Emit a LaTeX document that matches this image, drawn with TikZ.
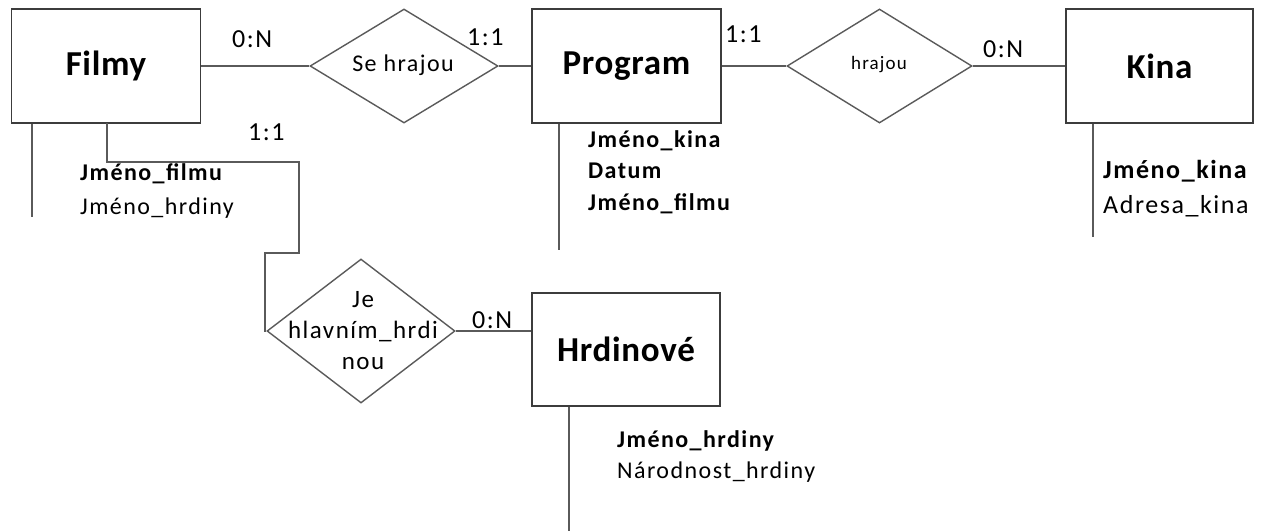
\documentclass[tikz,border=0pt]{standalone}
\usepackage{fontspec}
\setmainfont{Carlito}
\newfontfamily\spaced{Carlito}[LetterSpace=6]
\newfontfamily\slight{Carlito}[LetterSpace=2]
\usetikzlibrary{shapes.geometric}
\definecolor{boxline}{HTML}{3C3C3C}
\definecolor{linkgray}{HTML}{5A5A5A}
\begin{document}
\begin{tikzpicture}[x=1pt,y=-1pt,
  entity/.style={draw=boxline, line width=1.7pt, minimum width=189pt, minimum height=114pt,
    inner sep=0pt, font=\slight\fontsize{35}{40}\selectfont\bfseries},
  rel/.style={diamond, draw=linkgray, line width=1.4pt, minimum width=188pt, minimum height=114pt,
    inner sep=0pt},
  reltext/.style={inner sep=0pt, align=center, font=\spaced\fontsize{24}{31}\selectfont},
  card/.style={anchor=base west, inner sep=0pt, font=\spaced\fontsize{26}{30}\selectfont},
  attr/.style={anchor=base west, inner sep=0pt, font=\spaced\fontsize{24}{28}\selectfont},
  key/.style={attr, font=\spaced\fontsize{24}{28}\selectfont\bfseries},
  link/.style={draw=linkgray, line width=1.7pt}]
\useasboundingbox (0,0) rectangle (1268,531);

% entities
\node[entity] (filmy)   at (106,66)    {Filmy};
\node[entity] (program) at (626.5,66)  {Program};
\node[entity, minimum width=187pt] (kina) at (1159.5,66) {Kina};
\node[entity, minimum width=188pt, minimum height=113pt] (hrdinove) at (626,349.5) {Hrdinové};

% relationships
\node[rel] (sehrajou) at (404,66) {};
\node[reltext] (sehrajou-t) at (403,65) {Se hrajou};
\node[rel, minimum width=185pt] (hrajou) at (879.5,66) {};
\node[reltext, font=\spaced\fontsize{19}{22}\selectfont] (hrajou-t) at (879,65) {hrajou};
\node[rel, minimum height=144pt] (je) at (361,331) {};
\node[reltext, font=\spaced\fontsize{25}{31}\selectfont] (je-t) at (363,331) {Je\\hlavním\_hrdi\\nou};

% connectors
\draw[link] (filmy.east) -- (sehrajou.west);
\draw[link] (sehrajou.east) -- (program.west);
\draw[link] (program.east) -- (hrajou.west);
\draw[link] (hrajou.east) -- (kina.west);
\draw[link] (je.east) -- (je.east -| hrdinove.west);
\coordinate (f1) at (107,123);
\draw[link] (f1) -- (107,162) -- (299,162) -- (299,253) -- (265,253) |- (je.west);

% attribute stems
\coordinate (fa) at (32,217);
\coordinate (pa) at (559,250);
\coordinate (ka) at (1093,237);
\coordinate (ha) at (569,531);
\draw[link] (filmy.south west -| fa) -- (fa);
\draw[link] (program.south west -| pa) -- (pa);
\draw[link] (kina.south west -| ka) -- (ka);
\draw[link] (hrdinove.south west -| ha) -- (ha);

% cardinalities
\node[card] (c1) at (232,47)  {0:N};
\node[card] (c2) at (467,45)  {1:1};
\node[card] (c3) at (725,42)  {1:1};
\node[card] (c4) at (983,57)  {0:N};
\node[card] (c5) at (248,140) {1:1};
\node[card] (c6) at (472,328) {0:N};

% attributes
\node[key]  (fa1) at (80,180)  {Jméno\_filmu};
\node[attr] (fa2) at (80,214)  {Jméno\_hrdiny};
\node[key]  (pa1) at (588,147) {Jméno\_kina};
\node[key]  (pa2) at (588,178) {Datum};
\node[key]  (pa3) at (588,210) {Jméno\_filmu};
\node[key, font=\spaced\fontsize{26}{30}\selectfont\bfseries]  (ka1) at (1103,178) {Jméno\_kina};
\node[attr, font=\spaced\fontsize{26}{30}\selectfont] (ka2) at (1103,213) {Adresa\_kina};
\node[key]  (ha1) at (617,447) {Jméno\_hrdiny};
\node[attr] (ha2) at (617,478) {Národnost\_hrdiny};
\end{tikzpicture}
\end{document}
